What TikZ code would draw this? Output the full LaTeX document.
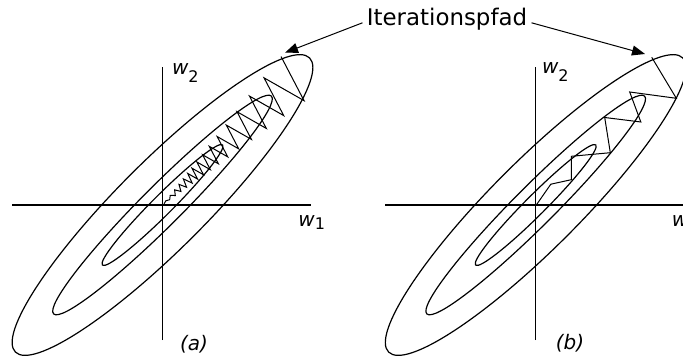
\documentclass[tikz,border=0pt]{standalone}
\usepackage{fontspec}
\setmainfont{DejaVu Sans}
\usetikzlibrary{arrows.meta}
\newcommand{\subfnt}{\fontsize{8}{9}\selectfont\upshape}

\begin{document}
\begin{tikzpicture}[x=0.5pt,y=0.5pt,
  contour/.style={line width=0.6pt},
  zickzack/.style={line width=0.5pt,line join=miter},
  pfeil/.style={line width=0.5pt,-{Triangle[length=6.5pt,width=5pt]}},
  lbl/.style={font=\fontsize{10}{12}\selectfont\itshape,inner sep=0pt}]
  \useasboundingbox (0,0) rectangle (683,358);
  % (a) gradient descent
  \begin{scope}[shift={(162.5,153)}]
    \draw[contour] (-150.5,0) -- (148.5,0);
    \draw[contour] (0,-135) -- (0,138);
    \foreach \a/\b in {208/44,154/20,85/10}
      \draw[contour,rotate=45] (0,0) ellipse [x radius=\a, y radius=\b];
    \draw[zickzack] (51.4:190)
      \foreach \k in {1,...,31} {
        -- ({ifthenelse(mod(\k,2)==0,51.4,36.4)}:{ifthenelse(\k<21,190*0.9255^\k,40.4-3.5*(\k-20))}) };
    \node[lbl,anchor=base west] (w2a) at (9.2,130) {w\raisebox{-4pt}{\subfnt 2}};
    \node[lbl,anchor=base west] (w1a) at (135.5,-22) {w\raisebox{-1.3pt}{\subfnt 1}};
    \node[lbl] (capa) at (31.5,-139) {(a)};
  \end{scope}
  % (b) with momentum
  \begin{scope}[shift={(535.7,153)}]
    \draw[contour] (-150.7,0) -- (160,0);
    \draw[contour] (0,-135) -- (0,138);
    \foreach \a/\b in {208/44,154/20,85/10}
      \draw[contour,rotate=45] (0,0) ellipse [x radius=\a, y radius=\b];
    \draw[zickzack] (116,147.7) -- (140.6,106.7) -- (94,113) -- (105.1,83)
      -- (69,87.5) -- (74.6,52.3) -- (35.6,48.7) -- (35.6,25.3)
      -- (15.1,20.8) -- (0.6,0);
    \node[lbl,anchor=base west] (w2b) at (6,131) {w\raisebox{-4pt}{\subfnt 2}};
    \node[lbl,anchor=base west] (w1b) at (135.8,-22) {w\raisebox{-1.3pt}{\subfnt 1}};
    \node[lbl] (capb) at (34.3,-138) {(b)};
  \end{scope}
  \node[font=\fontsize{11.45}{13.7}\selectfont,anchor=base,inner sep=2pt] (iter) at (447,332) {Iterationspfad};
  \coordinate (tipa) at (285,305.3);
  \coordinate (tipb) at (645,304);
  \draw[pfeil] ([yshift=1.6pt]iter.base west) -- (tipa);
  \draw[pfeil] ([yshift=1.6pt]iter.base east) -- (tipb);
\end{tikzpicture}
\end{document}
